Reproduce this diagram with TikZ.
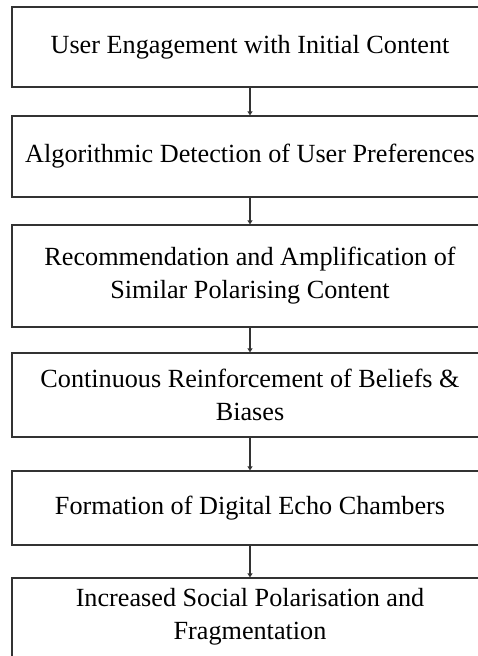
\documentclass[tikz,border=0pt]{standalone}
\usepackage{fontspec}
\setmainfont{Liberation Serif}
\usetikzlibrary{arrows.meta}
\definecolor{ln}{HTML}{333333}
\begin{document}
\begin{tikzpicture}[x=1bp,y=-1bp,
  txt/.style={inner sep=0pt,align=center,font=\fontsize{26.2bp}{33bp}\selectfont,text=black},
  box/.style={txt,draw=ln,line width=1.3bp,minimum width=476bp},
  flow/.style={draw=ln,line width=1.3bp,-{Triangle[length=4bp,width=5bp]}}]
\useasboundingbox (0,0) rectangle (478,656);
\clip (0,0) rectangle (478,656);
\node[box,minimum height=80bp] (b1) at (250,47) {User Engagement with Initial Content};
\node[box,minimum height=81bp] (b2) at (250,156.5) {Algorithmic Detection of User Preferences};
\node[box,minimum height=102bp] (b3) at (250,276) {Recommendation and Amplification of\\Similar Polarising Content};
\node[box,minimum height=84bp] (b4) at (250,395) {Continuous Reinforcement of Beliefs \&\\Biases};
\node[box,minimum height=74bp] (b5) at (250,508) {Formation of Digital Echo Chambers};
\node[box,minimum height=100bp] (b6) at (250,628) {};
\node[txt] (t6) at (250,617) {Increased Social Polarisation and\\Fragmentation};
\draw[flow] (b1) -- (b2);
\draw[flow] (b2) -- (b3);
\draw[flow] (b3) -- (b4);
\draw[flow] (b4) -- (b5);
\draw[flow] (b5) -- (b6);
\end{tikzpicture}
\end{document}
